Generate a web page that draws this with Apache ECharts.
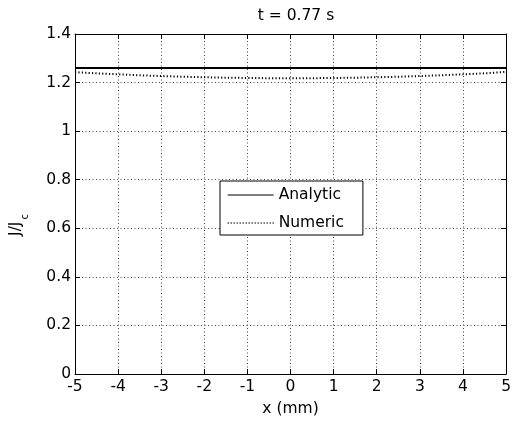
<!DOCTYPE html>
<html>
<head>
<meta charset="utf-8">
<script src="https://cdn.jsdelivr.net/npm/echarts@6/dist/echarts.min.js"></script>
<style>
html,body{margin:0;padding:0;background:#fff;}
#c{width:514px;height:426px;}
</style>
</head>
<body>
<div id="c"></div>
<script>
var titleText = 't = 0.77 s';
var xLabel = 'x (mm)';
var yLabelMain = 'J/J';
var yLabelSub = 'c';
var xTicks = [-5, -4, -3, -2, -1, 0, 1, 2, 3, 4, 5];
var yTicks = [0, 0.2, 0.4, 0.6, 0.8, 1, 1.2, 1.4];
var analyticX = [-5, 5];
var analyticY = [1.26, 1.26];
var numericX = [-5, -4.5, -4, -3.5, -3, -2.5, -2, -1.5, -1, -0.5, 0, 0.5, 1, 1.5, 2, 2.5, 3, 3.5, 4, 4.5, 5];
var numericY = [1.243, 1.238, 1.234, 1.230, 1.227, 1.224, 1.222, 1.220, 1.219, 1.218, 1.218, 1.218, 1.219, 1.220, 1.222, 1.224, 1.227, 1.230, 1.234, 1.238, 1.244];

var font = 'DejaVu Sans, Liberation Sans, Arial, sans-serif';
var fs = 15.5;
var chart = echarts.init(document.getElementById('c'), null, {renderer: 'canvas'});

function zip(a, b) { return a.map(function (v, i) { return [v, b[i]]; }); }

var gridLine = {show: true, lineStyle: {color: '#444', width: 1, type: [1, 2.5]}};
var axisLine = {show: true, onZero: false, lineStyle: {color: '#000', width: 1}};
var tick = {show: true, inside: true, length: 5, lineStyle: {color: '#000'}};

chart.setOption({
  animation: false,
  backgroundColor: '#fff',
  textStyle: {fontFamily: font},
  title: {
    text: titleText, left: 291, top: 3, textAlign: 'center',
    textStyle: {fontFamily: font, fontSize: fs, fontWeight: 'normal', color: '#000'}
  },
  grid: {left: 74, right: 5, top: 34, bottom: 52},
  xAxis: [{
    type: 'value', min: xTicks[0], max: xTicks[xTicks.length - 1], interval: 1,
    name: xLabel, nameLocation: 'middle', nameGap: 27,
    nameTextStyle: {fontFamily: font, fontSize: fs, color: '#000'},
    axisLine: axisLine, axisTick: tick, splitLine: gridLine,
    axisLabel: {fontFamily: font, fontSize: fs, color: '#000', margin: 5}
  }, {
    type: 'value', position: 'top', min: xTicks[0], max: xTicks[xTicks.length - 1], interval: 1,
    axisLine: axisLine, axisTick: tick, splitLine: {show: false}, axisLabel: {show: false}
  }],
  yAxis: [{
    type: 'value', min: yTicks[0], max: yTicks[yTicks.length - 1], interval: 0.2,
    name: '{a|' + yLabelMain + '}{b|' + yLabelSub + '}',
    nameLocation: 'middle', nameRotate: 90, nameGap: 45,
    nameTextStyle: {
      padding: [0, 42, 0, 0],
      rich: {
        a: {fontFamily: font, fontSize: fs, color: '#000', lineHeight: 28, verticalAlign: 'middle'},
        b: {fontFamily: font, fontSize: 10, color: '#000', lineHeight: 10, verticalAlign: 'bottom', padding: [0, 0, 0, 2]}
      }
    },
    axisLine: axisLine, axisTick: tick, splitLine: gridLine,
    axisLabel: {fontFamily: font, fontSize: fs, color: '#000', margin: 4}
  }, {
    type: 'value', position: 'right', min: yTicks[0], max: yTicks[yTicks.length - 1], interval: 0.2,
    axisLine: axisLine, axisTick: tick, splitLine: {show: false}, axisLabel: {show: false}
  }],
  legend: {
    orient: 'vertical', left: 220, top: 181,
    backgroundColor: '#fff', borderColor: '#000', borderWidth: 1,
    padding: [6, 19, 4, 7], itemWidth: 46, itemHeight: 14, itemGap: 12, itemStyle: {opacity: 0},
    textStyle: {fontFamily: font, fontSize: fs, color: '#000'},
    data: [
      {name: 'Analytic', lineStyle: {width: 1, type: 'solid', color: '#000'}},
      {name: 'Numeric', lineStyle: {width: 1.3, type: [1, 2], color: '#000'}}
    ]
  },
  series: [{
    name: 'Analytic', type: 'line', data: zip(analyticX, analyticY), symbol: 'none',
    lineStyle: {color: '#000', width: 2, type: 'solid'}, itemStyle: {color: '#000'}
  }, {
    name: 'Numeric', type: 'line', data: zip(numericX, numericY), symbol: 'none', smooth: false,
    lineStyle: {color: '#000', width: 2, type: [1.2, 2.2]}, itemStyle: {color: '#000'}
  }]
});
</script>
</body>
</html>
